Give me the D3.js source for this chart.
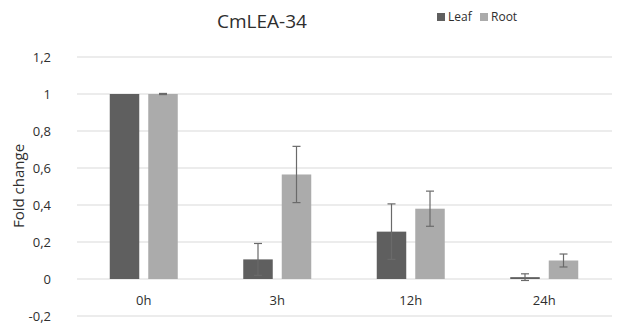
<!DOCTYPE html>
<html>
<head>
<meta charset="utf-8">
<script src="https://cdn.jsdelivr.net/npm/d3@7"></script>
<style>
  body { margin: 0; background: #fff; }
  text { font-family: "Open Sans", sans-serif; fill: #2e2e2e; }
</style>
</head>
<body>
<div id="chart"></div>
<script>
  var categories = [ '0h', '3h', '12h', '24h' ],
      series = [ 'Leaf', 'Root' ],
      leafValues = [ 1, 0.106, 0.256, 0.01 ],
      leafErrors = [ 0, 0.086, 0.15, 0.018 ],
      rootValues = [ 1, 0.565, 0.38, 0.1 ],
      rootErrors = [ 0.003, 0.152, 0.095, 0.035 ],
      yTicks = [ -0.2, 0, 0.2, 0.4, 0.6, 0.8, 1, 1.2 ];

  var width = 618,
      height = 332,
      colors = { Leaf: '#5f5f5f', Root: '#ababab' };

  var svg = d3.select( '#chart' )
    .append( 'svg' )
    .attr( 'width', width )
    .attr( 'height', height );

  var x = d3.scaleBand()
    .domain( categories )
    .range( [ 77, 611 ] );

  var inner = d3.scaleBand()
    .domain( series )
    .range( [ x.bandwidth() / 2 - 34, x.bandwidth() / 2 + 34 ] )
    .paddingInner( 0.234 );

  var y = d3.scaleLinear()
    .domain( [ -0.2, 1.2 ] )
    .range( [ 316, 57 ] );

  // grid lines
  svg.append( 'g' )
    .selectAll( 'line' )
    .data( yTicks )
    .enter().append( 'line' )
    .attr( 'x1', 77 )
    .attr( 'x2', 612 )
    .attr( 'y1', function( d ) { return y( d ); })
    .attr( 'y2', function( d ) { return y( d ); })
    .attr( 'stroke', '#d9d9d9' )
    .attr( 'stroke-width', 1 );

  // y labels
  var fmt = function( d ) { return String( d ).replace( '.', ',' ); };
  svg.append( 'g' )
    .selectAll( 'text' )
    .data( yTicks )
    .enter().append( 'text' )
    .attr( 'x', 51 )
    .attr( 'y', function( d ) { return y( d ); })
    .attr( 'dy', '0.35em' )
    .attr( 'text-anchor', 'end' )
    .style( 'font-size', '13px' )
    .text( fmt );

  // x labels
  svg.append( 'g' )
    .selectAll( 'text' )
    .data( categories )
    .enter().append( 'text' )
    .attr( 'x', function( d ) { return x( d ) + x.bandwidth() / 2; })
    .attr( 'y', 305 )
    .attr( 'text-anchor', 'middle' )
    .style( 'font-size', '13px' )
    .text( function( d ) { return d; });

  var rows = [];
  categories.forEach(function( c, i ) {
    rows.push({ cat: c, s: 'Leaf', v: leafValues[i], e: leafErrors[i] });
    rows.push({ cat: c, s: 'Root', v: rootValues[i], e: rootErrors[i] });
  });

  var groups = svg.append( 'g' )
    .selectAll( 'g' )
    .data( rows )
    .enter().append( 'g' )
    .attr( 'transform', function( d ) {
      return 'translate(' + ( x( d.cat ) + inner( d.s ) ) + ',0)';
    });

  groups.append( 'rect' )
    .attr( 'width', inner.bandwidth() )
    .attr( 'y', function( d ) { return y( d.v ); })
    .attr( 'height', function( d ) { return y( 0 ) - y( d.v ); })
    .attr( 'fill', function( d ) { return colors[ d.s ]; });

  var cx = inner.bandwidth() / 2;
  groups.filter(function( d ) { return d.e > 0; })
    .each(function( d ) {
      var g = d3.select( this );
      g.append( 'line' )
        .attr( 'x1', cx ).attr( 'x2', cx )
        .attr( 'y1', y( d.v + d.e ) ).attr( 'y2', y( d.v - d.e ) );
      [ d.v + d.e, d.v - d.e ].forEach(function( t ) {
        g.append( 'line' )
          .attr( 'x1', cx - 4 ).attr( 'x2', cx + 4 )
          .attr( 'y1', y( t ) ).attr( 'y2', y( t ) );
      });
      g.selectAll( 'line' )
        .attr( 'stroke', '#6a6a6a' )
        .attr( 'stroke-width', 1.2 );
    });

  // title
  svg.append( 'text' )
    .attr( 'x', 262 )
    .attr( 'y', 28 )
    .attr( 'text-anchor', 'middle' )
    .style( 'font-size', '19px' )
    .text( 'CmLEA-34' );

  // axis title
  svg.append( 'text' )
    .attr( 'transform', 'translate(24,186) rotate(-90)' )
    .attr( 'text-anchor', 'middle' )
    .style( 'font-size', '15px' )
    .text( 'Fold change' );

  // legend
  var legend = svg.append( 'g' )
    .selectAll( 'g' )
    .data( series )
    .enter().append( 'g' )
    .attr( 'transform', function( d, i ) { return 'translate(' + ( 437 + i * 43 ) + ',13)'; });

  legend.append( 'rect' )
    .attr( 'width', 8 )
    .attr( 'height', 8 )
    .attr( 'fill', function( d ) { return colors[ d ]; });

  legend.append( 'text' )
    .attr( 'x', 11 )
    .attr( 'y', 4 )
    .attr( 'dy', '0.35em' )
    .style( 'font-size', '12px' )
    .text( function( d ) { return d; });
</script>
</body>
</html>
